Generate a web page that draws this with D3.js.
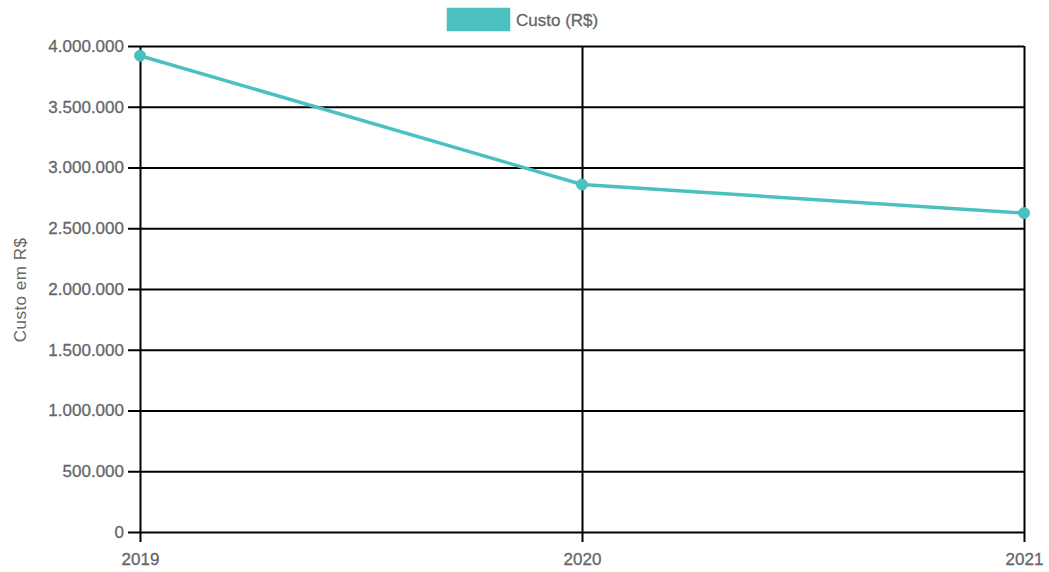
<!DOCTYPE html>
<html>
<head>
  <meta charset="utf-8">
  <title>Custo</title>
  <style>
    body { margin: 0; background: #fff; }
    text { font-family: "Liberation Sans", Arial, sans-serif; fill: #666; }
  </style>
</head>
<body>
  <svg width="1049" height="572"></svg>
  <script src="https://d3js.org/d3.v7.min.js"></script>
  <script>
    var years = ["2019", "2020", "2021"];
    var custo = [3920000, 2860000, 2625000];
    var yTicks = [0, 500000, 1000000, 1500000, 2000000, 2500000, 3000000, 3500000, 4000000];
    var seriesName = "Custo (R$)";
    var yTitle = "Custo em R$";

    var color = "rgb(75,192,192)";
    var svg = d3.select("svg");
    var plotLeft = 140, plotRight = 1024, plotTop = 46, plotBottom = 532;
    var fontFam = "'Liberation Sans', Arial, sans-serif";

    var xScale = d3.scalePoint().domain(years).range([plotLeft, plotRight]);
    var yScale = d3.scaleLinear().domain([0, 4000000]).range([plotBottom, plotTop]);
    var fmt = function (v) { return d3.format(",")(v).replace(/,/g, "."); };

    // horizontal grid + ticks
    var yAxis = d3.axisLeft(yScale).tickValues(yTicks).tickFormat(fmt)
      .tickSize(-(plotRight - plotLeft)).tickSizeOuter(0);
    var gy = svg.append("g").attr("transform", "translate(" + plotLeft + ",0)").call(yAxis);
    gy.select(".domain").remove();
    gy.selectAll(".tick line").attr("x1", -12).attr("stroke", "#000").attr("stroke-width", 2);
    gy.selectAll(".tick text").attr("x", -16).style("font-size", "17px").attr("fill", "#666")
      .attr("stroke", "#666").attr("stroke-width", 0.3).style("font-family", fontFam);

    // vertical grid + ticks
    var xAxis = d3.axisBottom(xScale).tickSize(-(plotBottom - plotTop)).tickSizeOuter(0);
    var gx = svg.append("g").attr("transform", "translate(0," + plotBottom + ")").call(xAxis);
    gx.select(".domain").remove();
    gx.selectAll(".tick line").attr("y1", 10).attr("stroke", "#000").attr("stroke-width", 2);
    gx.selectAll(".tick text").attr("y", 21).attr("dy", "0.71em").style("font-size", "17px").attr("fill", "#666")
      .attr("stroke", "#666").attr("stroke-width", 0.3).style("font-family", fontFam);

    // y title
    svg.append("text")
      .attr("transform", "translate(26,290) rotate(-90)")
      .attr("text-anchor", "middle")
      .style("font-size", "17px")
      .style("letter-spacing", "0.5px")
      .text(yTitle);

    // line
    var line = d3.line().x(function (d, i) { return xScale(years[i]); }).y(function (d) { return yScale(d); });
    svg.append("path")
      .attr("d", line(custo))
      .attr("fill", "none")
      .attr("stroke", color)
      .attr("stroke-width", 3.5);

    svg.selectAll("circle.pt").data(custo).enter().append("circle")
      .attr("class", "pt")
      .attr("cx", function (d, i) { return xScale(years[i]); })
      .attr("cy", function (d) { return yScale(d); })
      .attr("r", 5.5)
      .attr("fill", color)
      .attr("stroke", color)
      .attr("stroke-width", 1);

    // legend
    svg.append("rect").attr("x", 447).attr("y", 8).attr("width", 63).attr("height", 23)
      .attr("fill", color).attr("stroke", "rgba(75,192,192,0.5)");
    svg.append("text").attr("x", 516).attr("y", 26).style("font-size", "17px")
      .attr("stroke", "#666").attr("stroke-width", 0.3).text(seriesName);
  </script>
</body>
</html>
